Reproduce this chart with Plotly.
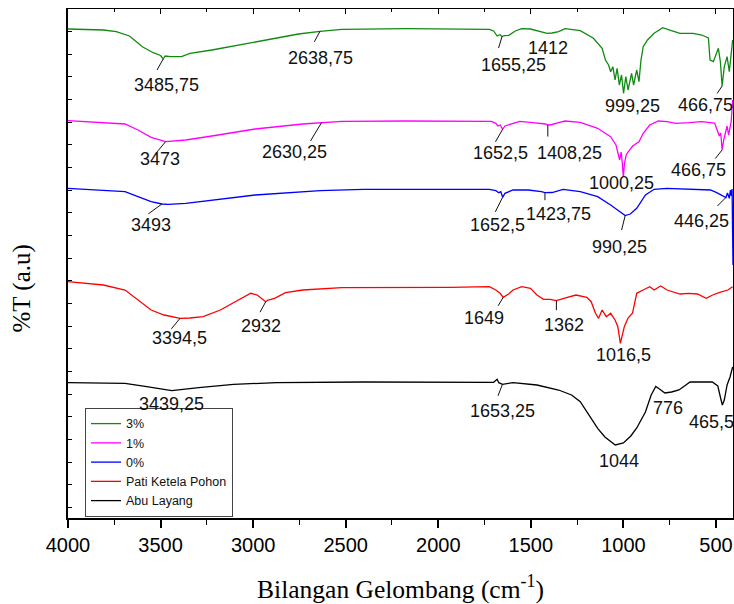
import numpy as np
import plotly.graph_objects as go

# FTIR spectra, wavenumber (cm^-1) vs. stacked transmittance (a.u.)
wn_3 = [4000, 3809, 3739, 3668, 3598, 3540, 3500, 3485.75, 3475, 3446, 3387, 3341, 3223, 2989, 2755,
        2638.75, 2521, 2170, 1724, 1701, 1682, 1666, 1655.25, 1643, 1619, 1584, 1549, 1502, 1443, 1412,
        1385, 1350, 1315, 1233, 1162, 1115, 1097, 1080, 1069, 1057, 1045, 1034, 1022, 1010, 999.25, 987,
        975, 956, 945, 928, 916, 905, 893, 870, 834, 788, 741, 694, 624, 577, 541, 532, 514, 487, 476,
        466.75, 455, 440, 428, 418, 410]
t_3 = [489, 488, 486.3, 482, 471.3, 465.3, 462.5, 459, 462, 461.3, 461.3, 464.7, 468, 476.3, 484,
       486.7, 488.7, 489.3, 488.7, 487, 482, 483.3, 481.5, 482.3, 482.7, 487, 489.3, 489, 486.3, 484.7,
       485, 486.3, 489.3, 487.3, 479.7, 469.7, 458, 453, 446.3, 451.3, 438, 449.7, 433, 443, 424.7, 441.3,
       428, 444.7, 433, 448, 436.3, 458, 471.3, 478, 484.7, 490.3, 487.3, 484.7, 484.7, 483, 480, 458,
       456.3, 469.7, 456, 432, 451.3, 461.3, 446.3, 468, 478]

wn_1 = [4000, 3692, 3622, 3551, 3473, 3364, 3223, 2989, 2732, 2630.25, 2521, 2170, 1713, 1689, 1678,
        1665, 1652.5, 1640, 1596, 1560, 1490, 1420, 1408.25, 1385, 1350, 1315, 1233, 1139, 1069, 1040,
        1020, 1012, 1006, 1000.25, 994, 985, 975, 950, 916, 893, 858, 811, 764, 717, 647, 577, 507, 496,
        482, 474, 466.75, 458, 448, 440, 432, 425, 418, 410]
t_1 = [397.3, 394, 388, 380.7, 376.3, 378, 382, 389, 394, 395.5, 396.7, 397, 396.7, 394.7, 392,
       393, 388.7, 392, 394.7, 396.7, 395.3, 394, 393, 393.5, 395.3, 397, 395.7, 389.7, 381.3, 373,
       358, 366, 355, 341, 355, 363, 366, 372, 376.3, 384.7, 393, 397, 396.3, 394.7, 395.3, 396.3, 395,
       389.7, 382, 385, 368, 378, 385, 392, 383, 392, 396, 418]

wn_0 = [4000, 3692, 3622, 3551, 3493, 3458, 3364, 3223, 2989, 2638, 2404, 1724, 1689, 1673, 1662,
        1652.5, 1640, 1596, 1514, 1443, 1423.75, 1385, 1326, 1233, 1139, 1069, 1020, 990.25, 963, 928,
        881, 834, 764, 647, 530, 496, 469, 455, 446.25, 438, 428, 422, 417, 413, 408]
t_0 = [329.7, 326.3, 321.3, 316.3, 314, 313.7, 314.7, 318, 323, 327.3, 328.7, 328.7, 327.3, 325.3, 326.3,
       320.7, 324.7, 328, 328, 326.3, 325.3, 325.5, 328.7, 326.3, 321.3, 313, 306, 302.5, 304, 309.7,
       323, 328.7, 329.7, 328.7, 328, 325.3, 323, 322, 320.5, 325, 319.7, 328, 322, 329, 253]

wn_pati = [4000, 3809, 3692, 3622, 3551, 3481, 3394.5, 3341, 3270, 3177, 3083, 3013, 2978, 2932, 2919,
           2884, 2825, 2732, 2521, 2170, 1935, 1724, 1689, 1666, 1649, 1620, 1596, 1549, 1502, 1467,
           1432, 1396, 1362, 1303, 1256, 1198, 1174, 1151, 1134, 1115, 1092, 1069, 1045, 1030, 1016.5,
           995, 975, 951, 928, 893, 858, 834, 799, 764, 729, 694, 647, 600, 553, 518, 483, 436, 410]
t_pati = [236.3, 233, 228, 218, 208, 203, 199.7, 200, 201.3, 208, 218, 224.7, 223, 216.3, 218,
          219.7, 225.3, 228, 230.3, 230.3, 230.7, 231.3, 228, 224.7, 220.7, 224, 228, 231.3, 229.7, 223,
          218.7, 218.7, 217.3, 220.7, 223, 220.7, 216.3, 204.7, 199.7, 208, 201.3, 204.7, 198, 191.3, 174.7,
          191.3, 200, 204.7, 224.7, 228, 231.3, 228, 232, 228, 226.3, 224, 224.7, 224, 219.7, 223, 225.3,
          228, 231.3]

wn_abu = [4000, 3692, 3575, 3439.25, 3294, 3106, 2872, 2404, 1701, 1682, 1673, 1653.25, 1596, 1467,
          1350, 1280, 1233, 1186, 1139, 1100, 1044, 1000, 960, 928, 881, 850, 825, 805, 776, 740, 700,
          670, 640, 520, 490, 475, 465.5, 455, 440, 424, 410]
t_abu = [135.3, 134.7, 131.3, 127.3, 130.3, 133.7, 135.3, 136, 135.7, 138.7, 135.3, 133.7, 135.3, 133,
         128, 123, 116.3, 103, 89.7, 81, 73, 75, 82, 90, 106, 123, 131.5, 129, 125, 126, 128,
         132, 136, 136, 132, 120, 113, 118, 133, 141, 151]

# Peak positions labelled on each spectrum (cm^-1)
peaks_3 = [3485.75, 2638.75, 1655.25, 1412, 999.25, 466.75]
peaks_1 = [3473, 2630.25, 1652.5, 1408.25, 1000.25, 466.75]
peaks_0 = [3493, 1652.5, 1423.75, 990.25, 446.25]
peaks_pati = [3394.5, 2932, 1649, 1362, 1016.5]
peaks_abu = [3439.25, 1653.25, 1044, 776, 465.5]

x_ticks = [4000, 3500, 3000, 2500, 2000, 1500, 1000, 500]

# label placement: text offset (px right, px down) and leader line tail offset (or None)
label_style = {
    "3%": [((3, 26), (-7, 12.5)), ((0, 27), (-6.5, 12)), ((11, 28), (-4, 13)),
           ((1, 15), None), ((9, 13), None), ((-17, 19), (-6, 9))],
    "1%": [((-6, 17), (-10, 12)), ((-27, 29), (-12, 20)), ((-2, 24), (-8, 14)),
           ((22, 28), (0, 13)), ((-2, 6), None), ((-24, 20), (-8, 10))],
    "0%": [((-11, 21), (-15, 11)), ((-5, 28), (-8, 16)), ((14, 21), (0, 9)),
           ((-6, 31), (-4, 16)), ((-24, 23), (-10, 10))],
    "Pati Ketela Pohon": [((-1, 20), (-10, 12)), ((-5, 24), (-6.5, 12)), ((-19, 21), (-6, 10)),
                          ((8, 24), (0, 11)), ((3, 12), None)],
    "Abu Layang": [((0, 13), None), ((0, 27), (-5, 13)), ((4, 16), None),
                   ((3, 15), None), ((-11, 17), None)],
}

series = [
    ("3%", wn_3, t_3, peaks_3, "#108a10"),
    ("1%", wn_1, t_1, peaks_1, "#ff00ff"),
    ("0%", wn_0, t_0, peaks_0, "#0000ff"),
    ("Pati Ketela Pohon", wn_pati, t_pati, peaks_pati, "#ff0000"),
    ("Abu Layang", wn_abu, t_abu, peaks_abu, "#000000"),
]

SANS = "Liberation Sans, Arial, sans-serif"
SERIF = "Liberation Serif, Times New Roman, serif"
LABEL_FONT = dict(family=SANS, size=18, color="#111111")


def fmt(v):
    return f"{v:g}".replace(".", ",")


fig = go.Figure()
annotations = []
for name, wn, t, peaks, color in series:
    fig.add_trace(go.Scatter(x=wn, y=t, mode="lines", name=name,
                             line=dict(color=color, width=1.3)))
    for pk, ((dx, dy), tick) in zip(peaks, label_style[name]):
        yv = float(np.interp(pk, wn[::-1], t[::-1]))
        if tick is not None:
            annotations.append(dict(x=pk, y=yv, xref="x", yref="y", text="",
                                    showarrow=True, arrowhead=0, arrowwidth=1,
                                    arrowcolor="#111111", ax=tick[0], ay=tick[1]))
        annotations.append(dict(x=pk, y=yv, xref="x", yref="y", text=fmt(pk),
                                showarrow=False, xshift=dx, yshift=-dy,
                                xanchor="center", yanchor="middle", font=LABEL_FONT))

# y-axis title
annotations.append(dict(xref="paper", yref="paper", x=-0.069, y=0.451, text="%T (a.u)",
                        textangle=-90, showarrow=False, xanchor="center", yanchor="middle",
                        font=dict(family=SERIF, size=25, color="black")))

# empty trace so the top frame axis is drawn
fig.add_trace(go.Scatter(x=[None], y=[None], xaxis="x2", yaxis="y",
                         showlegend=False, hoverinfo="skip"))

fig.update_layout(
    width=734, height=604,
    margin=dict(l=68, r=1, t=9, b=86),
    paper_bgcolor="white", plot_bgcolor="white",
    showlegend=True,
    legend=dict(x=0.0256, y=0.002, xanchor="left", yanchor="bottom",
                bgcolor="rgba(255,255,255,0)", bordercolor="#444444", borderwidth=1,
                font=dict(family=SANS, size=12.5, color="#111111"),
                tracegroupgap=0, itemwidth=30),
    annotations=annotations,
    xaxis=dict(range=[4000, 408], tickvals=x_ticks, ticktext=[str(v) for v in x_ticks],
               ticks="outside", ticklen=8, tickwidth=1.5, tickcolor="black",
               minor=dict(dtick=250, tick0=0, ticks="outside", ticklen=5, tickwidth=1.2, tickcolor="black"),
               showline=True, linewidth=1.6, linecolor="black", showgrid=False, zeroline=False,
               tickfont=dict(family=SANS, size=20, color="black"),
               title=dict(text="Bilangan Gelombang (cm<sup>-1</sup>)", standoff=27,
                          font=dict(family=SERIF, size=25.5, color="black")),
               automargin=False),
    xaxis2=dict(range=[4000, 408], overlaying="x", side="top", anchor="y",
                tickvals=x_ticks, ticks="inside", ticklen=5, tickwidth=1, tickcolor="black",
                minor=dict(dtick=250, tick0=0, ticks="inside", ticklen=3, tickcolor="black"),
                showticklabels=False, showline=True, linewidth=1.4, linecolor="black",
                showgrid=False, zeroline=False),
    yaxis=dict(range=[0, 509], showticklabels=False, ticks="inside", ticklen=4, tickwidth=1,
               tickcolor="black", tick0=509, dtick=22.65,
               showline=True, linewidth=1.6, linecolor="black", mirror=True,
               showgrid=False, zeroline=False, automargin=False),
)

fig.write_html("out.html")
